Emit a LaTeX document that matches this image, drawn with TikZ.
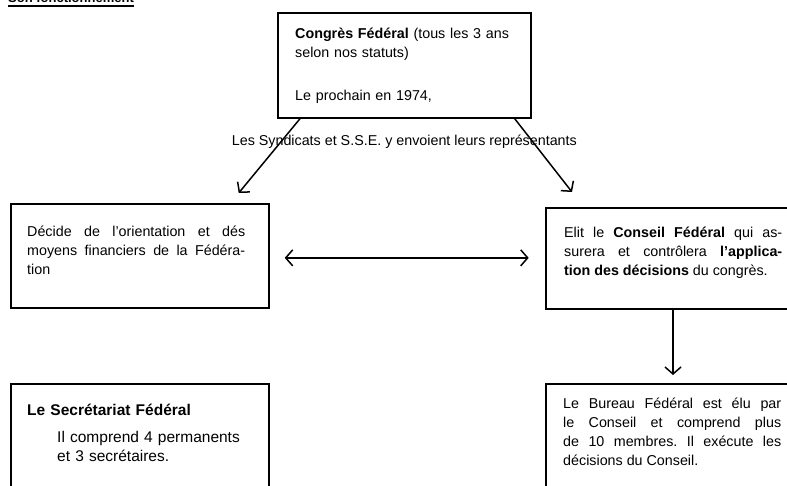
\documentclass[tikz,border=0pt]{standalone}
\usepackage{fontspec}
\setmainfont{Liberation Sans}
\usetikzlibrary{positioning,calc,arrows.meta}
\frenchspacing

\begin{document}
\begin{tikzpicture}[x=1pt,y=-1pt,
             box/.style={draw, line width=1.7pt, anchor=north west, inner sep=0pt},
             txt/.style={draw=none, inner sep=0pt, anchor=north west, text width=218pt, align=justify, font=\fontsize{14.3}{19}\selectfont},
             fleche/.style={line width=1.5pt, -{Straight Barb[length=7pt,width=16pt]}}]
             \useasboundingbox (0,0) rectangle (787,485);

             \node[draw=none, anchor=base west, inner sep=0pt, font=\bfseries\fontsize{13}{14}\selectfont] (titre) at (8,2) {Son fonctionnement};
             \draw[line width=1.8pt] ($(titre.base west)+(0,4)$) -- ($(titre.base east)+(0,4)$);

             \node[box, minimum width=253pt, minimum height=105pt] (congres) at (277,12) {};
             \node[txt, align=left, text width=225pt, below right=16pt and 18pt of congres.north west] (congrestxt) {\textbf{Congrès Fédéral} (tous les 3 ans\\selon nos statuts)\\[24pt]Le prochain en 1974,};

             \node[box, minimum width=258pt, minimum height=104pt] (orient) at (10,203) {};
             \node[txt, below right=23pt and 17pt of orient.north west] (orienttxt) {Décide de l'orientation et dés\linebreak moyens financiers de la Fédéra-\linebreak tion};

             \node[box, minimum width=260pt, minimum height=101pt] (conseil) at (545,207) {};
             \node[txt, below right=20pt and 19pt of conseil.north west] (conseiltxt) {Elit le \textbf{Conseil Fédéral} qui as-\linebreak surera et contrôlera \textbf{l'applica-}\linebreak \textbf{tion des décisions} du congrès.};

             \node[box, minimum width=258pt, minimum height=130pt] (secretariat) at (10,383) {};
             \node[txt, align=left, font=\fontsize{15.5}{19}\selectfont, below right=21pt and 17pt of secretariat.north west] (secretariattxt) {\textbf{Le Secrétariat Fédéral}\\[8pt]\hspace*{30pt}Il comprend 4 permanents\\\hspace*{30pt}et 3 secrétaires.};

             \node[box, minimum width=260pt, minimum height=130pt] (bureau) at (545,383) {};
             \node[txt, below right=15pt and 18pt of bureau.north west] (bureautxt) {Le Bureau Fédéral est élu par\linebreak le Conseil et comprend plus\linebreak de 10 membres. Il exécute les\linebreak décisions du Conseil.};

             \node[draw=none, inner sep=0pt, font=\fontsize{14.3}{16}\selectfont, below=16pt of congres.south] (envoi) {Les Syndicats et S.S.E. y envoient leurs représentants};

             \draw[fleche] ($(congres.south west)+(23,0)$) -- ($(orient.north east)+(-31,-10)$);
             \draw[fleche] ($(congres.south east)+(-17,0)$) -- ($(conseil.north west)+(27,-15)$);
             \draw[fleche, {Straight Barb[length=7pt,width=16pt]}-{Straight Barb[length=7pt,width=16pt]}] ($(orient.east)+(15,2)$) -- ($(orient.east)+(259,2)$);
             \draw[fleche] ($(conseil.south west)+(128,0)$) -- ($(bureau.north west)+(128,-8)$);
             \end{tikzpicture}
\end{document}
